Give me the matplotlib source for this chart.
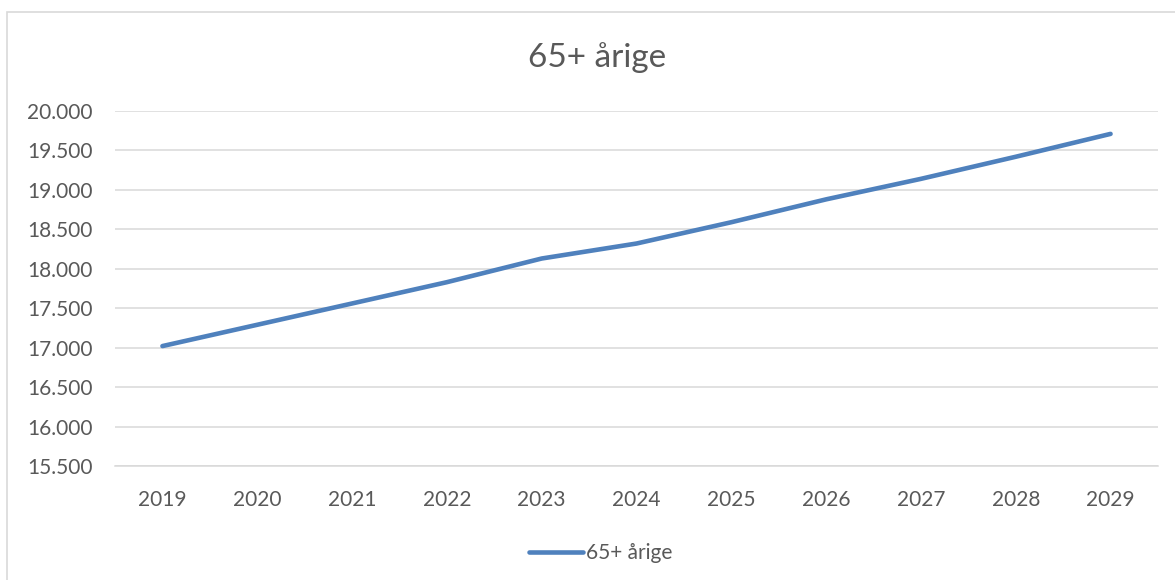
#! /usr/bin/env python3

"""Line chart of the number of 65+ year olds, 2019-2029."""

import matplotlib.pyplot as plt
from matplotlib.patches import Rectangle
from matplotlib.ticker import FuncFormatter, MultipleLocator

years = ['2019', '2020', '2021', '2022', '2023', '2024',
         '2025', '2026', '2027', '2028', '2029']
values = [17020, 17290, 17560, 17830, 18130, 18320,
          18590, 18880, 19140, 19420, 19710]
series_name = '65+ årige'
title = '65+ årige'

plt.rcParams['font.family'] = ['Lato', 'DejaVu Sans']


def thousands(v, pos):
    """Format with dot as thousands separator."""
    return f'{int(v):,}'.replace(',', '.')


def main():
    """Plot and save the chart."""
    fig = plt.figure(figsize=(11.75, 5.8), dpi=100)
    ax = fig.add_axes([0.0979, 0.1966, 0.8876, 0.612])

    # chart border (cut off at right and bottom)
    fig.patches.append(Rectangle((7 / 1175, -0.1), 1.2, 1.1 - 12 / 580,
                                 transform=fig.transFigure, fill=False,
                                 edgecolor='#d9d9d9', linewidth=1.2))

    x = range(len(years))
    ax.plot(x, values, color='#4f81bd', linewidth=3.3,
            solid_capstyle='round', solid_joinstyle='round',
            label=series_name)

    ax.set_xlim(-0.5, len(years) - 0.5)
    ax.set_ylim(15500, 20000)
    ax.yaxis.set_major_locator(MultipleLocator(500))
    ax.yaxis.set_major_formatter(FuncFormatter(thousands))
    ax.set_xticks(list(x))
    ax.set_xticklabels(years)

    ax.grid(axis='y', color='#d9d9d9', linewidth=1.1)
    ax.set_axisbelow(True)
    for side in ['top', 'right', 'left']:
        ax.spines[side].set_visible(False)
    ax.spines['bottom'].set_color('#d9d9d9')
    ax.spines['bottom'].set_linewidth(1.1)
    ax.tick_params(axis='both', length=0, labelsize=15,
                   labelcolor='#595959')
    ax.tick_params(axis='x', pad=17)
    ax.tick_params(axis='y', pad=16)

    fig.text(0.508, 0.9, title, ha='center', va='center',
             fontsize=24, color='#595959')

    ax.legend(loc='center', bbox_to_anchor=(0.466, -0.245), frameon=False,
              fontsize=15, labelcolor='#595959', handlelength=2.6,
              handletextpad=0.15)

    fig.savefig('out.png', dpi=100)


if __name__ == "__main__":
    main()
